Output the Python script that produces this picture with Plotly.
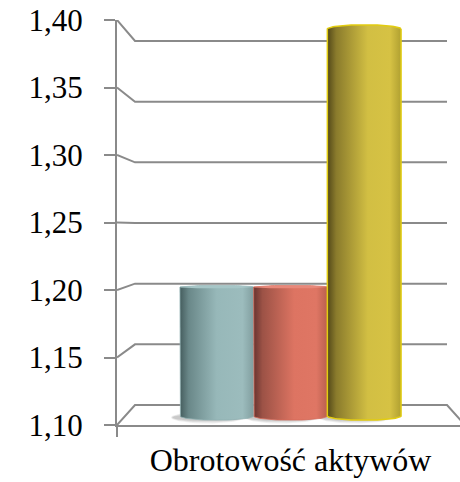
import numpy as np
import plotly.graph_objects as go

# ---------------- data ----------------
categories = ["Obrotowość aktywów"]
series_names = ["Seria 1", "Seria 2", "Seria 3"]
values = [1.20, 1.20, 1.40]
y_ticks = [1.10, 1.15, 1.20, 1.25, 1.30, 1.35, 1.40]
y_min, y_max = 1.10, 1.40

# ---------------- style / geometry ----------------
W, H = 460, 482
M_L, M_T, M_B = 117, 20, 57
PLOT_W = W - M_L
PLOT_H = H - M_T - M_B
PX = PLOT_H / (y_max - y_min)          # pixels per value unit on the front axis

BACK_SCALE, BACK_LIFT = 364 / 405, 20  # back wall plane
MID_SCALE, MID_LIFT = 387 / 405, 9     # plane where the cylinders stand
HORIZON = 1.25
DEPTH_X = 18                            # px from front axis to back wall
WALL_END = 330                          # px (x offset) where back wall ends
GROUP_CENTER = 173.5
BAR_W = 73.7

GRID_COLOR = "#8a8a8a"
FONT = "Liberation Serif"

face_scales = [
    [[0, "#455d5e"], [0.12, "#6a8889"], [0.5, "#97b8b9"], [0.85, "#9cbcbd"], [1, "#819e9f"]],
    [[0, "#683430"], [0.12, "#9c5246"], [0.55, "#dd7462"], [0.85, "#df7664"], [1, "#b9604f"]],
    [[0, "#524819"], [0.12, "#8a7b2c"], [0.55, "#d2bf43"], [0.85, "#d6c244"], [1, "#b0a031"]],
]
top_colors = ["#a6c6c7", "#e8887a", "#dccb55"]
edge_colors = ["#8fb0b1", "#d56a58", "#e2cc10"]


def plane(v, scale, lift):
    """map a value on a depth plane to front-axis data units"""
    return y_min + lift / PX + (v - y_min) * scale


fig = go.Figure()

# back wall gridlines with their diagonal connectors, and the floor
gx, gy = [], []
for v in y_ticks:
    b = plane(v, BACK_SCALE, BACK_LIFT)
    if abs(v - y_min) < 1e-9:
        gx += [0, DEPTH_X, WALL_END, WALL_END + DEPTH_X, None]
        gy += [v, b, b, v, None]
    else:
        gx += [0, DEPTH_X, WALL_END, None]
        gy += [v, b, b, None]
fig.add_trace(go.Scatter(x=gx, y=gy, mode="lines", line=dict(color=GRID_COLOR, width=2),
                         hoverinfo="skip", showlegend=False))

t_up = np.linspace(0, np.pi, 40)
t_dn = np.linspace(np.pi, 2 * np.pi, 40)
t_full = np.linspace(0, 2 * np.pi, 80)

base = plane(y_min, MID_SCALE, MID_LIFT)
a_base = max(1.5, 28 * abs(y_min - HORIZON)) / PX
half = BAR_W / 2

# soft shadows
for i, v in enumerate(values):
    c = GROUP_CENTER + (i - 1) * BAR_W - 9
    for k, alpha in [(1.0, 0.08), (0.8, 0.1), (0.6, 0.12)]:
        fig.add_trace(go.Scatter(x=c + half * np.cos(t_full) * (0.9 + 0.1 * k),
                                 y=base - 1.5 / PX + 6 * k / PX * np.sin(t_full),
                                 mode="lines", fill="toself", fillcolor=f"rgba(60,60,60,{alpha})",
                                 line=dict(width=0), hoverinfo="skip", showlegend=False))

# cylinders
for i, v in enumerate(values):
    c = GROUP_CENTER + (i - 1) * BAR_W
    top = plane(v, MID_SCALE, MID_LIFT)
    a_top = max(1.5, 28 * abs(v - HORIZON)) / PX
    xs = np.concatenate([c + half * np.cos(t_up), c + half * np.cos(t_dn), [c + half]])
    ys = np.concatenate([top + a_top * np.sin(t_up), base + a_base * np.sin(t_dn), [top]])
    fig.add_trace(go.Scatter(
        x=xs, y=ys, mode="lines", fill="toself",
        fillgradient=dict(type="horizontal", colorscale=face_scales[i], start=c - half, stop=c + half),
        line=dict(color=edge_colors[i], width=1.5 if i == 2 else 0.8),
        name=series_names[i], hovertemplate=f"{series_names[i]}: %{{text}}<extra></extra>",
        text=[f"{v:.2f}".replace(".", ",")] * len(xs), showlegend=False))
    if v < HORIZON:
        fig.add_trace(go.Scatter(x=c + half * np.cos(t_full), y=top + a_top * np.sin(t_full),
                                 mode="lines", fill="toself", fillcolor=top_colors[i],
                                 line=dict(width=0), hoverinfo="skip", showlegend=False))

fig.update_layout(
    width=W, height=H,
    margin=dict(l=M_L, r=0, t=M_T, b=M_B, pad=0),
    paper_bgcolor="white", plot_bgcolor="white",
    separators=", ",
    showlegend=False,
    font=dict(family=FONT, color="#000000"),
    xaxis=dict(range=[0, PLOT_W], showgrid=False, zeroline=False,
               showline=True, linecolor=GRID_COLOR, linewidth=2,
               tickvals=[GROUP_CENTER], ticktext=categories, ticks="",
               tickfont=dict(size=32, family=FONT), ticklabelstandoff=6,
               minor=dict(tickvals=[0], ticks="outside", ticklen=10, tickwidth=2, tickcolor=GRID_COLOR),
               fixedrange=True),
    yaxis=dict(range=[y_min, y_max], tickvals=y_ticks, tickformat=".2f",
               showgrid=False, zeroline=False, showline=True, linecolor=GRID_COLOR, linewidth=2,
               ticks="outside", ticklen=11, tickwidth=2, tickcolor=GRID_COLOR,
               tickfont=dict(size=31, family=FONT), ticklabelstandoff=15,
               fixedrange=True),
)

fig.write_html("out.html", config={"displayModeBar": False},
               post_script="document.body.style.margin='0';document.body.style.padding='0';")
